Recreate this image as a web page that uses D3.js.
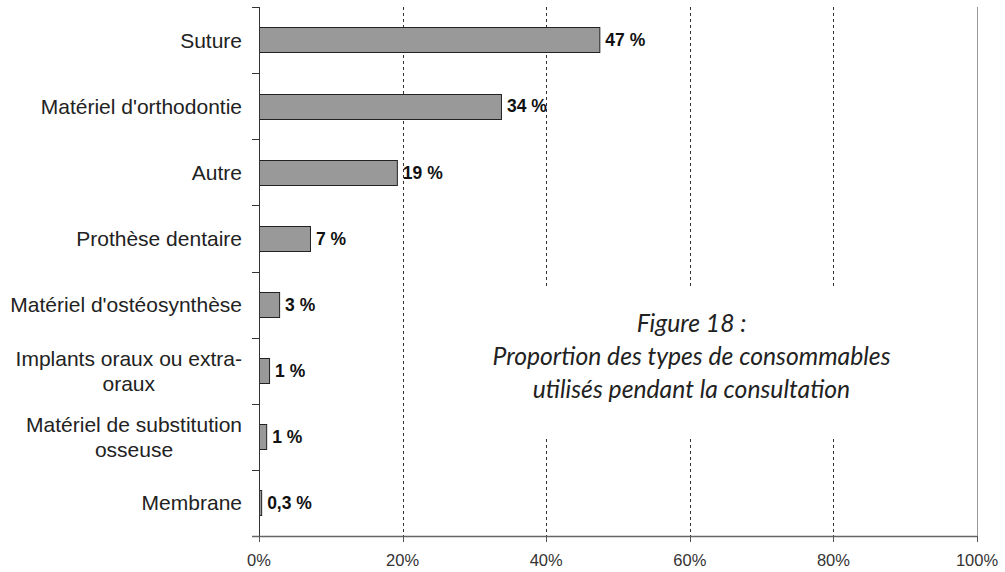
<!DOCTYPE html>
<html lang="fr">
  <head>
    <meta charset="utf-8">
    <title>Figure 18</title>
    <script src="https://d3js.org/d3.v7.min.js"></script>
    <style>
      body { margin: 0; background: #fff; }
      .catLabel { font-family: "Liberation Sans", Arial, sans-serif; font-size: 21px; fill: #222; }
      .valLabel { font-family: "Liberation Sans", Arial, sans-serif; font-size: 17.5px; font-weight: bold; fill: #111; }
      .tickLabel { font-family: "Liberation Sans", Arial, sans-serif; font-size: 16.5px; fill: #333; }
      .caption { font-family: Lato, "Open Sans", sans-serif; font-style: italic; font-size: 24.7px; fill: #222; }
    </style>
  </head>
  <body>
    <script>
      // categories, top to bottom
      var categories = ["Suture", "Matériel d'orthodontie", "Autre", "Prothèse dentaire",
        "Matériel d'ostéosynthèse", "Implants oraux ou extra-oraux",
        "Matériel de substitution osseuse", "Membrane"];
      // how the long labels break in the original
      var categoryLines = [["Suture"], ["Matériel d'orthodontie"], ["Autre"], ["Prothèse dentaire"],
        ["Matériel d'ostéosynthèse"], ["Implants oraux ou extra-", "oraux"],
        ["Matériel de substitution", "osseuse"], ["Membrane"]];
      // percentages
      var values = [47.4, 33.7, 19.2, 7.1, 2.8, 1.4, 1.0, 0.3];
      var xTicks = [0, 20, 40, 60, 80, 100];
      var captionLines = ["Figure 18 :", "Proportion des types de consommables", "utilisés pendant la consultation"];

      var outerWidth = 1005, outerHeight = 572;
      var margin = { top: 7, left: 259, right: 28, bottom: 36 };
      var width = outerWidth - margin.left - margin.right,
        height = outerHeight - margin.top - margin.bottom;

      var svg = d3.select("body").append("svg")
        .attr("width", outerWidth)
        .attr("height", outerHeight);

      var g = svg.append("g")
        .attr("transform", "translate(" + margin.left + "," + margin.top + ")");

      var xScale = d3.scaleLinear().domain([0, 100]).range([0, width]);
      var yScale = d3.scaleBand().domain(categories).range([0, height])
        .paddingInner(0.62).paddingOuter(0.31);

      // dashed gridlines
      g.selectAll(".grid")
        .data(xTicks.filter(function(d) { return d > 0 && d < 100; }))
        .enter().append("line")
        .attr("x1", function(d) { return Math.round(xScale(d)) + 0.5; })
        .attr("x2", function(d) { return Math.round(xScale(d)) + 0.5; })
        .attr("y1", 0).attr("y2", height)
        .attr("stroke", "#333")
        .attr("stroke-dasharray", "3,3");

      // right border
      g.append("line")
        .attr("x1", Math.round(xScale(100)) + 0.5).attr("x2", Math.round(xScale(100)) + 0.5)
        .attr("y1", 0).attr("y2", height)
        .attr("stroke", "#999");

      // white box behind the caption hides the grid
      g.append("rect")
        .attr("x", 470 - margin.left).attr("y", 287 - margin.top)
        .attr("width", 490).attr("height", 151)
        .attr("fill", "#fff");

      // bars
      g.selectAll(".bar")
        .data(values)
        .enter().append("rect")
        .attr("x", xScale(0) + 0.5)
        .attr("y", function(d, i) { return Math.round(yScale(categories[i])) + 0.5; })
        .attr("width", function(d) { return xScale(d); })
        .attr("height", Math.round(yScale.bandwidth()))
        .attr("fill", "#999")
        .attr("stroke", "#222");

      // value labels
      var fmt = function(v) {
        return (v < 1 ? d3.format(".1f")(v).replace(".", ",") : Math.round(v)) + " %";
      };
      g.selectAll(".valLabel")
        .data(values)
        .enter().append("text")
        .attr("class", "valLabel")
        .attr("x", function(d) { return xScale(d) + 6; })
        .attr("y", function(d, i) { return yScale(categories[i]) + yScale.bandwidth() / 2; })
        .attr("dy", "0.36em")
        .text(fmt);

      // y axis line and boundary ticks
      g.append("line")
        .attr("x1", 0.5).attr("x2", 0.5).attr("y1", 0).attr("y2", height)
        .attr("stroke", "#333");
      g.selectAll(".yTick")
        .data(d3.range(categories.length + 1))
        .enter().append("line")
        .attr("x1", -7).attr("x2", 0)
        .attr("y1", function(i) { return Math.round(i * yScale.step()) + 0.5; })
        .attr("y2", function(i) { return Math.round(i * yScale.step()) + 0.5; })
        .attr("stroke", "#333");

      // category labels, wrapped ones centred as a block ending at the axis
      categoryLines.forEach(function(lines, i) {
        var cy = yScale(categories[i]) + yScale.bandwidth() / 2;
        var t = g.append("text")
          .attr("class", "catLabel")
          .attr("y", cy - (lines.length - 1) * 12.5);
        var spans = lines.map(function(line, j) {
          return t.append("tspan").attr("dy", j === 0 ? "0.36em" : 25).text(line);
        });
        if (lines.length === 1) {
          t.attr("text-anchor", "end");
          spans[0].attr("x", -17);
        } else {
          var w = d3.max(spans, function(s) { return s.node().getComputedTextLength(); });
          t.attr("text-anchor", "middle");
          spans.forEach(function(s) { s.attr("x", -17 - w / 2); });
        }
      });

      // x axis
      g.append("line")
        .attr("x1", -7).attr("x2", width)
        .attr("y1", height + 0.5).attr("y2", height + 0.5)
        .attr("stroke", "#666").attr("stroke-width", 1.5);
      g.selectAll(".xTick")
        .data(xTicks)
        .enter().append("line")
        .attr("x1", function(d) { return Math.round(xScale(d)) + 0.5; })
        .attr("x2", function(d) { return Math.round(xScale(d)) + 0.5; })
        .attr("y1", height).attr("y2", height + 6)
        .attr("stroke", "#555");
      g.selectAll(".tickLabel")
        .data(xTicks)
        .enter().append("text")
        .attr("class", "tickLabel")
        .attr("text-anchor", "middle")
        .attr("x", function(d) { return xScale(d); })
        .attr("y", height + 24)
        .attr("dy", "0.36em")
        .text(function(d) { return d + "%"; });

      // caption
      svg.selectAll(".caption")
        .data(captionLines)
        .enter().append("text")
        .attr("class", "caption")
        .attr("text-anchor", "middle")
        .attr("x", 691.5)
        .attr("y", function(d, i) { return 332 + i * 33; })
        .text(function(d) { return d; });
    </script>
  </body>
</html>
